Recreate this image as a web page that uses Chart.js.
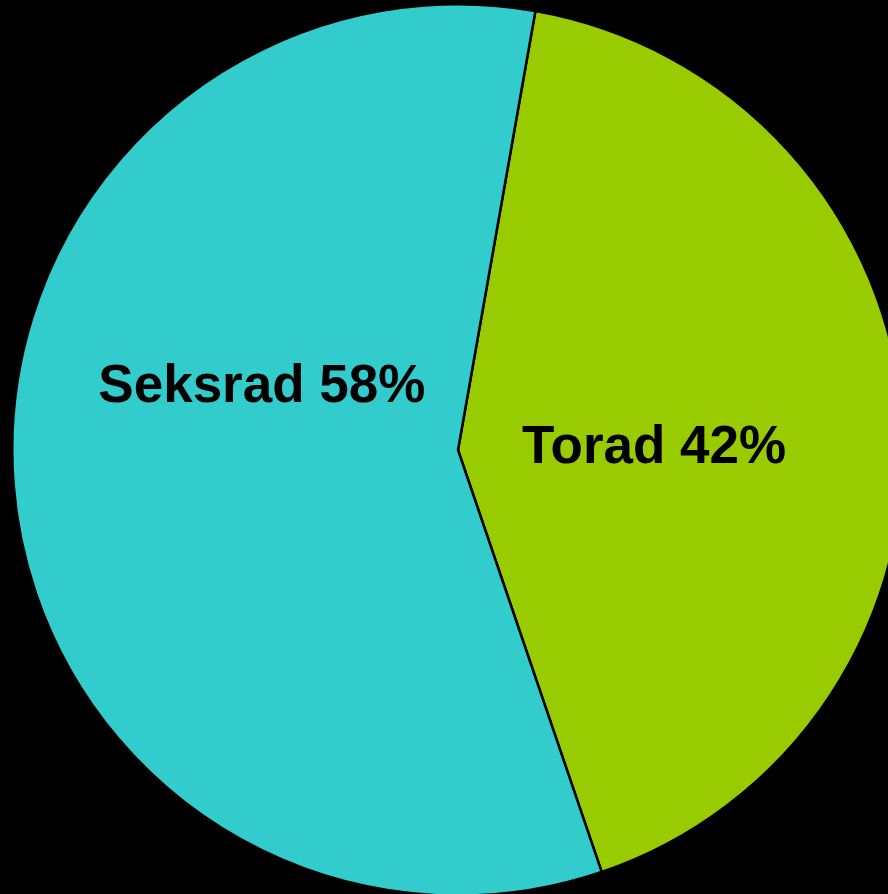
<!DOCTYPE html>
<html>
<head>
<meta charset="utf-8">
<script src="https://cdn.jsdelivr.net/npm/chart.js@4.4.0/dist/chart.umd.min.js"></script>
<style>
    html, body { margin: 0; padding: 0; background: #000; overflow: hidden; }
    #wrap { position: absolute; left: 0; top: 0; width: 916px; height: 900px; }
</style>
</head>
<body>
<div id="wrap"><canvas id="myChart"></canvas></div>
<script>
// DATA
const categories = ['Torad', 'Seksrad'];
const shares = [42, 58];
const sliceColors = ['#99CC00', '#33CCCC'];
// label position inside each slice, as fraction of the radius from the centre
const labelOffsets = [[0.44, -0.003], [-0.44, -0.14]];

// PLUGIN: draws "Name NN%" inside the slices
const sliceLabels = {
    id: 'sliceLabels',
    afterDatasetsDraw(chart) {
        const ctx = chart.ctx;
        const meta = chart.getDatasetMeta(0);
        ctx.save();
        ctx.fillStyle = '#000';
        ctx.font = 'bold 53px "Liberation Sans", Arial, sans-serif';
        ctx.textAlign = 'center';
        ctx.textBaseline = 'middle';
        meta.data.forEach((arc, i) => {
            const r = arc.outerRadius;
            const x = arc.x + labelOffsets[i][0] * r;
            const y = arc.y + labelOffsets[i][1] * r;
            ctx.fillText(categories[i] + ' ' + shares[i] + '%', x, y);
        });
        ctx.restore();
    }
};

// CHART CREATION
new Chart(document.getElementById('myChart'), {
    type: 'pie',
    data: {
        labels: categories,
        datasets: [{
            data: shares,
            backgroundColor: sliceColors,
            borderColor: '#000',
            borderWidth: 2.5
        }]
    },
    options: {
        responsive: true,
        maintainAspectRatio: false,
        animation: false,
        rotation: 10,
        layout: { padding: 3 },
        plugins: {
            legend: { display: false },
            tooltip: { enabled: false }
        }
    },
    plugins: [sliceLabels]
});
</script>
</body>
</html>
